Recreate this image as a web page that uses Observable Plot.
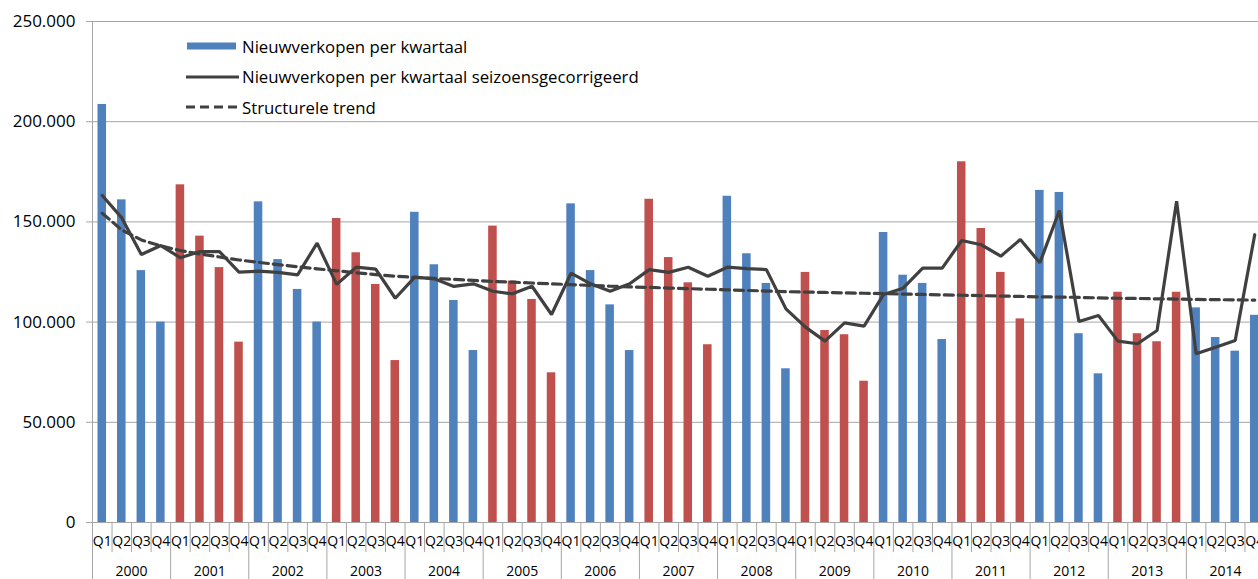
<!DOCTYPE html>
<html>
<head>
<meta charset="utf-8">
<script src="https://cdn.jsdelivr.net/npm/d3@7"></script>
<script src="https://cdn.jsdelivr.net/npm/@observablehq/plot@0.6"></script>
<style>
  html, body { margin: 0; padding: 0; background: #fff; overflow: hidden; }
  #wrap { position: relative; width: 1258px; height: 579px; overflow: hidden; }
  #chart svg { max-width: none !important; }
  #legend { position: absolute; left: 186px; top: 31px; font-family: "Open Sans", sans-serif; font-size: 16.8px; color: #000; }
  .row { display: flex; align-items: center; height: 30.5px; white-space: nowrap; }
  .row svg { margin-right: 2px; }
</style>
</head>
<body>
<div id="wrap">
  <div id="chart"></div>
  <div id="legend"></div>
</div>
<script>
const years = ["2000","2001","2002","2003","2004","2005","2006","2007","2008","2009","2010","2011","2012","2013","2014"];
const quarters = ["Q1","Q2","Q3","Q4"];
const yTicks = [0, 50000, 100000, 150000, 200000, 250000];

// Nieuwverkopen per kwartaal
const sales = [
  208600, 161000, 125700, 100000,
  168500, 142900, 127200,  90000,
  160000, 131200, 116300, 100000,
  151700, 134600, 118800,  80800,
  154800, 128600, 110800,  85800,
  147900, 120500, 111300,  74700,
  159000, 125700, 108600,  85800,
  161300, 132200, 119600,  88700,
  162800, 134100, 119300,  76700,
  124800,  95800,  93700,  70500,
  144700, 123400, 119300,  91300,
  180000, 146700, 124800, 101600,
  165700, 164700,  94200,  74200,
  114900,  94200,  90200, 114900,
  107100,  92300,  85500, 103400
];
// Nieuwverkopen per kwartaal seizoensgecorrigeerd
const seasonal = [
  163200, 152000, 133700, 138200,
  132100, 135200, 135200, 124900,
  125400, 124800, 123600, 139400,
  118800, 127400, 126400, 111900,
  122400, 121600, 117800, 119100,
  115400, 114100, 117900, 103800,
  124400, 119100, 115400, 119100,
  126200, 124800, 127400, 122900,
  127400, 126700, 126200, 106600,
   97500,  90500,  99600,  98000,
  113800, 116900, 126900, 126900,
  140700, 138600, 132900, 141200,
  129600, 155700, 100300, 103300,
   90500,  89200,  95800, 160300,
   84200,  87500,  90800, 143600
];
// Structurele trend
const trend = [
  154300, 146000, 141000, 138000,
  135700, 134000, 132500, 131000,
  129800, 128700, 127600, 126600,
  125600, 124600, 123700, 122900,
  122300, 121800, 121300, 120800,
  120300, 119900, 119500, 119100,
  118700, 118300, 117900, 117600,
  117300, 117000, 116700, 116400,
  116100, 115800, 115500, 115200,
  115000, 114800, 114600, 114400,
  114200, 114000, 113800, 113600,
  113400, 113200, 113000, 112800,
  112600, 112500, 112300, 112100,
  111900, 111800, 111600, 111500,
  111300, 111200, 111100, 111000
];
const seriesNames = [
  "Nieuwverkopen per kwartaal",
  "Nieuwverkopen per kwartaal seizoensgecorrigeerd",
  "Structurele trend"
];

const BLUE = "#4F81BD", RED = "#C0504D", LINE = "#404040", GRID = "#a6a6a6";
const nl = d3.formatLocale({decimal: ",", thousands: ".", grouping: [3], currency: ["€", ""]});
const fmt = nl.format(",");

const rows = sales.map((v, i) => ({
  i, yi: Math.floor(i / 4), q: quarters[i % 4], sales: v, sa: seasonal[i], trend: trend[i]
}));
const n = rows.length;
const boundaries = d3.range(n + 1);
const yearBounds = boundaries.filter(b => b % 4 === 0);
const quarterBounds = boundaries.filter(b => b % 4 !== 0);

const chart = Plot.plot({
  width: 1264, height: 579,
  marginLeft: 92, marginRight: 0, marginTop: 21, marginBottom: 57,
  style: {fontFamily: "'Open Sans', sans-serif", background: "transparent", color: "#000", overflow: "visible", maxWidth: "none"},
  x: {type: "linear", domain: [0, n], axis: null},
  y: {domain: [0, 250000], axis: null},
  color: {type: "identity"},
  marks: [
    Plot.gridY(yTicks, {stroke: GRID, strokeOpacity: 1}),
    Plot.axisY(yTicks, {tickSize: 6, tickPadding: 11, tickFormat: fmt, fontSize: 17, stroke: GRID, fill: "#000", label: null}),
    Plot.ruleX([0], {stroke: GRID}),
    Plot.axisX(quarterBounds, {tickSize: 30, tickFormat: () => "", stroke: GRID, label: null}),
    Plot.axisX(yearBounds, {tickSize: 57, tickFormat: () => "", stroke: GRID, label: null}),
    Plot.rectY(rows, {
      x1: "i", x2: d => d.i + 1, y: "sales",
      insetLeft: 5.5, insetRight: 5.5,
      fill: d => (d.yi % 2 === 0 ? BLUE : RED)
    }),
    Plot.line(rows, {x: d => d.i + 0.5, y: "trend", stroke: LINE, strokeWidth: 3.2, strokeDasharray: "9,5"}),
    Plot.line(rows, {x: d => d.i + 0.5, y: "sa", stroke: LINE, strokeWidth: 3.2, strokeLinejoin: "miter"}),
    Plot.text(rows, {x: d => d.i + 0.5, text: "q", frameAnchor: "bottom", dy: 19, lineAnchor: "middle", fontSize: 14, fill: "#000"}),
    Plot.text(years, {x: (d, j) => j * 4 + 2, text: d => d, frameAnchor: "bottom", dy: 49, lineAnchor: "middle", fontSize: 14, fill: "#000"})
  ]
});
document.getElementById("chart").append(chart);

// Legend
const legend = document.getElementById("legend");
const swatches = [
  `<svg width="54" height="10"><rect x="1" y="1.5" width="49" height="7" fill="${BLUE}"/></svg>`,
  `<svg width="54" height="10"><line x1="0" x2="53" y1="5" y2="5" stroke="${LINE}" stroke-width="3"/></svg>`,
  `<svg width="54" height="10"><line x1="0" x2="53" y1="5" y2="5" stroke="${LINE}" stroke-width="3" stroke-dasharray="9,5"/></svg>`
];
seriesNames.forEach((name, k) => {
  const r = document.createElement("div");
  r.className = "row";
  r.innerHTML = swatches[k] + `<span>${name}</span>`;
  legend.append(r);
});
</script>
</body>
</html>
